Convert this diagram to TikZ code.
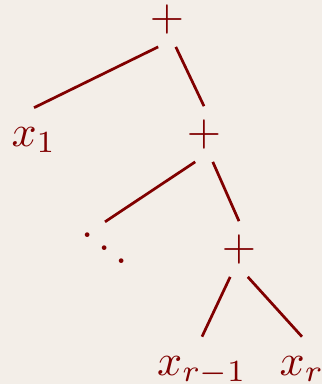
\documentclass[tikz,border=0pt]{standalone}
\usetikzlibrary{positioning}
\definecolor{cbg}{HTML}{F3EEE8}
\definecolor{cdark}{HTML}{800000}
\tikzset{
  every picture/.style={line width=0.62pt},
  opnode/.style={text=cdark, inner sep=0pt, outer sep=3pt},
  leaf/.style={text=cdark, inner sep=0pt, outer sep=4.4pt, anchor=base},
  branch/.style={draw=cdark},
}
\begin{document}
\begin{tikzpicture}[x=0.2273pt, y=-0.2273pt]
  \fill[cbg] (0,0) rectangle (322,384);
  \useasboundingbox (0,0) rectangle (322,384);
  \node[opnode] (p1) at (167,19) {$+$};
  \node[opnode] (p2) at (204,134) {$+$};
  \node[opnode] (p3) at (239,249) {$+$};
  \node[leaf] (x1) at (34,146) {$x_1$};
  \node[text=cdark, inner sep=0pt] (dd) at (105,235) {$\ddots$};
  \node[leaf] (xa) at (202,375) {$x_{r-1}$};
  \node[leaf] (xb) at (302,375) {$x_r$};
  % branches
  \foreach \a/\s/\b in {p1/-2pt/x1, p1/2pt/p2, p2/2pt/p3, p3/-2pt/xa, p3/2pt/xb}
    \draw[branch] ([xshift=\s]\a.south) -- (\b.north);
  \draw[branch] ([xshift=-2pt]p2.south) -- ([yshift=3pt]dd.center);
\end{tikzpicture}
\end{document}
